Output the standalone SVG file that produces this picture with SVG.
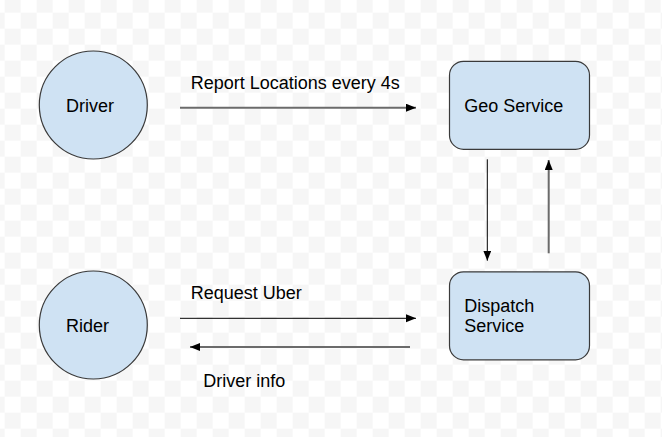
<svg xmlns="http://www.w3.org/2000/svg" width="662" height="437" viewBox="0 0 662 437">
<defs>
<pattern id="grid" patternUnits="userSpaceOnUse" x="4.7" y="12.7" width="32" height="32">
<rect width="32" height="32" fill="#ffffff"/>
<rect x="16" y="0" width="16" height="16" fill="#f6f6f6"/>
<rect x="0" y="16" width="16" height="16" fill="#f6f6f6"/>
</pattern>
<marker id="ah" markerUnits="userSpaceOnUse" markerWidth="12" markerHeight="10" refX="10" refY="4" orient="auto">
<path d="M0,0 L10,4 L0,8 Z" fill="#000"/>
</marker>
</defs>
<style>
.node{fill:#cfe2f3;stroke:#3a3a3a;stroke-width:1.2}
text{font-family:"Liberation Sans",Arial,sans-serif;font-size:18px;fill:#000}
.thin{stroke:#000;stroke-width:1;fill:none}
.thick{stroke:#6b6b6b;stroke-width:2;fill:none}
</style>
<rect width="662" height="437" fill="url(#grid)"/>
<g id="connectors">
<line class="thick" x1="180" y1="107.7" x2="416" y2="107.7" marker-end="url(#ah)"/>
<line class="thin" x1="487.3" y1="159.3" x2="487.3" y2="260.7" marker-end="url(#ah)"/>
<line class="thick" x1="548.7" y1="253.3" x2="548.7" y2="160" marker-end="url(#ah)"/>
<line class="thin" x1="180" y1="318.3" x2="416" y2="318.3" marker-end="url(#ah)"/>
<line class="thick" x1="410" y1="347" x2="190" y2="347" marker-end="url(#ah)"/>
<text x="190.7" y="88.7">Report Locations every 4s</text>
<text x="190.7" y="298.7">Request Uber</text>
<text x="203.3" y="387.3">Driver info</text>
</g>
<g id="driver">
<circle class="node" cx="93.3" cy="105" r="54"/>
<text x="66" y="112">Driver</text>
</g>
<g id="rider">
<circle class="node" cx="93.3" cy="325" r="54"/>
<text x="66" y="331.7">Rider</text>
</g>
<g id="geo">
<rect class="node" x="449.5" y="61.3" width="140" height="88" rx="14"/>
<text x="464.3" y="111.7">Geo Service</text>
</g>
<g id="dispatch">
<rect class="node" x="449.5" y="271.8" width="140" height="88" rx="14"/>
<text x="464.3" y="311.7">Dispatch</text>
<text x="464.3" y="332.3">Service</text>
</g>
</svg>
